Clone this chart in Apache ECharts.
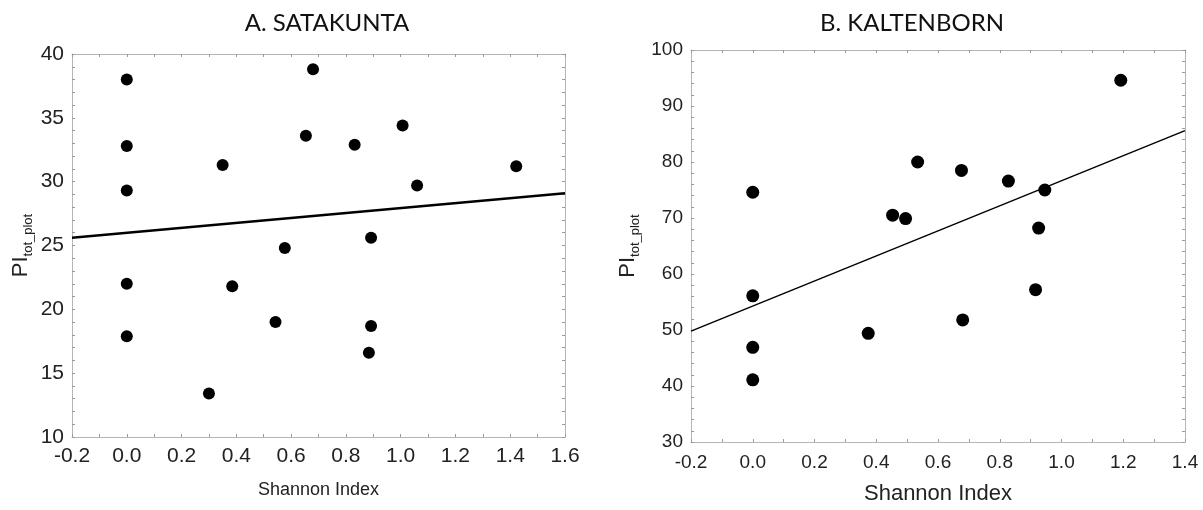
<!DOCTYPE html>
<html>
<head>
<meta charset="utf-8">
<script src="https://cdn.jsdelivr.net/npm/echarts@6/dist/echarts.min.js"></script>
<style>
  html, body { margin: 0; padding: 0; background: #fff; }
  #chart { width: 1203px; height: 510px; }
</style>
</head>
<body>
<div id="chart"></div>
<script>
// A. Satakunta
const satX = [0, 0, 0, 0, 0, 0.30, 0.35, 0.385, 0.543, 0.577, 0.654, 0.68, 0.832, 0.892, 0.892, 0.884, 1.007, 1.06, 1.422];
const satY = [38.0, 32.8, 29.3, 22.0, 17.9, 13.4, 31.3, 21.8, 19.0, 24.8, 33.6, 38.8, 32.9, 25.6, 18.7, 16.6, 34.4, 29.7, 31.2];
const satFitX = [-0.2, 1.6];
const satFitY = [25.6, 29.1];

// B. Kaltenborn
const kalX = [0, 0, 0, 0, 0.374, 0.453, 0.495, 0.534, 0.676, 0.68, 0.828, 0.916, 0.926, 0.946, 1.192];
const kalY = [74.6, 56.1, 46.9, 41.1, 49.4, 70.5, 69.9, 80.0, 78.5, 51.8, 76.6, 57.2, 68.2, 75.0, 94.6];
const kalFitX = [-0.2, 1.4];
const kalFitY = [49.8, 85.6];

const titles = ["A. SATAKUNTA", "B. KALTENBORN"];
const xName = "Shannon Index";

const pairs = (xs, ys) => xs.map((x, i) => [x, ys[i]]);

const chart = echarts.init(document.getElementById("chart"));

const tickColor = "#9a9a9a";
const labelFont = "Liberation Sans";

// one x axis (bottom with labels or top without)
function makeX(grid, max, top, labelSize, labelMargin, nameSize, nameGap) {
  return {
    type: "value",
    gridIndex: grid,
    position: top ? "top" : "bottom",
    min: -0.2,
    max: max,
    interval: 0.2,
    name: top ? "" : xName,
    nameLocation: "middle",
    nameGap: nameGap,
    nameTextStyle: { fontFamily: labelFont, fontSize: nameSize, color: "#222" },
    axisLine: { show: true, onZero: false, lineStyle: { color: "#b5b5b5", width: 1 } },
    axisTick: { show: true, inside: true, length: 3, lineStyle: { color: tickColor } },
    minorTick: { show: true, splitNumber: 2, length: 3, lineStyle: { color: tickColor } },
    splitLine: { show: false },
    axisLabel: {
      show: !top,
      margin: labelMargin,
      fontFamily: labelFont,
      fontSize: labelSize,
      color: "#222",
      formatter: (v) => v.toFixed(1),
    },
  };
}

function makeY(grid, min, max, interval, minorSplit, right, labelSize, nameGap) {
  return {
    type: "value",
    gridIndex: grid,
    position: right ? "right" : "left",
    min: min,
    max: max,
    interval: interval,
    name: right ? "" : "{a|PI}{b|tot_plot}",
    nameLocation: "middle",
    nameGap: nameGap,
    nameTextStyle: {
      rich: {
        a: { fontFamily: labelFont, fontSize: 22, color: "#222", verticalAlign: "bottom" },
        b: { fontFamily: labelFont, fontSize: 13, color: "#222", verticalAlign: "bottom", padding: [0, 0, -3, 0] },
      },
    },
    axisLine: { show: true, onZero: false, lineStyle: { color: "#b5b5b5", width: 1 } },
    axisTick: { show: true, inside: true, length: 3, lineStyle: { color: tickColor } },
    minorTick: { show: true, splitNumber: minorSplit, length: 3, lineStyle: { color: tickColor } },
    splitLine: { show: false },
    axisLabel: {
      show: !right,
      margin: 8,
      fontFamily: labelFont,
      fontSize: labelSize,
      color: "#222",
    },
  };
}

const option = {
  backgroundColor: "#fff",
  animation: false,
  title: [
    {
      text: titles[0],
      left: 322,
      top: 6,
      textAlign: "center",
      textStyle: { fontFamily: "Lato", fontSize: 24, fontWeight: "normal", color: "#111" },
    },
    {
      text: titles[1],
      left: 907,
      top: 6,
      textAlign: "center",
      textStyle: { fontFamily: "Lato", fontSize: 24, fontWeight: "normal", color: "#111" },
    },
  ],
  grid: [
    { left: 72, top: 54, width: 493, height: 383 },
    { left: 691, top: 50, width: 494, height: 392 },
  ],
  xAxis: [
    makeX(0, 1.6, false, 21, 9, 18, 44),
    makeX(0, 1.6, true),
    makeX(1, 1.4, false, 19, 11, 22, 41),
    makeX(1, 1.4, true),
  ],
  yAxis: [
    makeY(0, 10, 40, 5, 5, false, 21, 40),
    makeY(0, 10, 40, 5, 5, true),
    makeY(1, 30, 100, 10, 5, false, 19, 52),
    makeY(1, 30, 100, 10, 5, true),
  ],
  series: [
    {
      type: "line",
      xAxisIndex: 0,
      yAxisIndex: 0,
      data: pairs(satFitX, satFitY),
      symbol: "none",
      lineStyle: { color: "#000", width: 2.5 },
      z: 2,
    },
    {
      type: "scatter",
      xAxisIndex: 0,
      yAxisIndex: 0,
      data: pairs(satX, satY),
      symbol: "circle",
      symbolSize: 12,
      itemStyle: { color: "#000", opacity: 1 },
      z: 3,
    },
    {
      type: "line",
      xAxisIndex: 2,
      yAxisIndex: 2,
      data: pairs(kalFitX, kalFitY),
      symbol: "none",
      lineStyle: { color: "#000", width: 1.5 },
      z: 2,
    },
    {
      type: "scatter",
      xAxisIndex: 2,
      yAxisIndex: 2,
      data: pairs(kalX, kalY),
      symbol: "circle",
      symbolSize: 13,
      itemStyle: { color: "#000", opacity: 1 },
      z: 3,
    },
  ],
};

chart.setOption(option);
</script>
</body>
</html>
